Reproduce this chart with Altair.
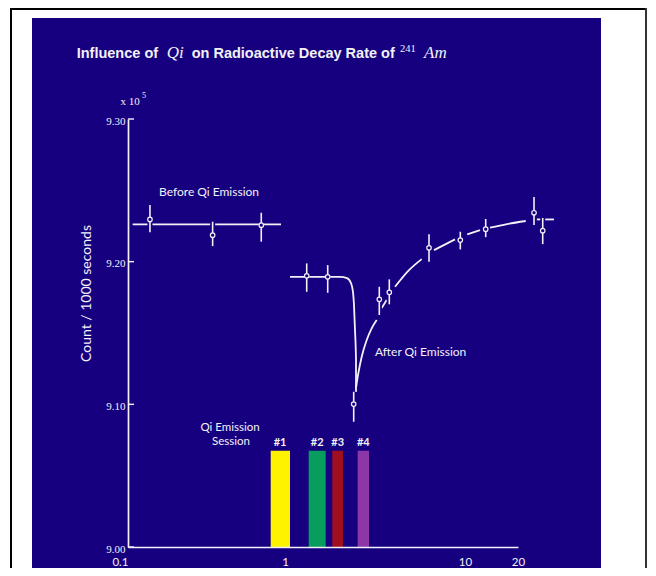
import altair as alt
import pandas as pd

# ---------------- data ----------------
before_x = [0.138, 0.346, 0.706]
before_y = [9.2296, 9.2186, 9.2256]
before_lo = [9.2207, 9.2109, 9.2140]
before_hi = [9.2397, 9.2280, 9.2343]

before_fit_x = [0.1071, 0.9430]
before_fit_y = [9.2261, 9.2261]

after_x = [1.320, 1.727, 2.408, 3.341, 3.797, 6.310, 9.417, 13.11, 24.66, 27.63]
after_y = [9.1901, 9.1894, 9.1002, 9.1736, 9.1785, 9.2097, 9.2151, 9.2228, 9.2343, 9.2217]
after_lo = [9.1789, 9.1782, 9.0878, 9.1626, 9.1701, 9.1999, 9.2086, 9.2172, 9.2257, 9.2123]
after_hi = [9.1988, 9.1976, 9.1088, 9.1824, 9.1876, 9.2193, 9.2210, 9.2299, 9.2453, 9.2306]

drop_x = [1.066, 2.021, 2.211, 2.326, 2.387, 2.417, 2.448, 2.480, 2.480]
drop_y = [9.1894, 9.1894, 9.1885, 9.1850, 9.1787, 9.1696, 9.1521, 9.1310, 9.1086]

rise_seg = [0, 0, 0, 0, 0, 0, 1, 1, 2, 2, 2, 3, 3, 4, 4, 5, 5, 5, 6, 6]
rise_x = [2.480, 2.554, 2.668, 2.844, 3.031, 3.232, 3.445, 3.673, 4.085, 4.825,
          5.747, 6.727, 8.800, 10.30, 12.17, 13.87, 17.32, 22.13, 25.54, 32.03]
rise_y = [9.1114, 9.1217, 9.1334, 9.1451, 9.1533, 9.1591, 9.1675, 9.1731, 9.1824, 9.1934,
          9.2018, 9.2081, 9.2156, 9.2191, 9.2221, 9.2238, 9.2263, 9.2285, 9.2296, 9.2296]

session_labels = ["#1", "#2", "#3", "#4"]
session_x0 = [0.811, 1.354, 1.831, 2.534]
session_x1 = [1.066, 1.683, 2.100, 2.929]
session_top = [9.0675, 9.0675, 9.0675, 9.0675]
session_colors = ["#fff200", "#089c5e", "#a00f1e", "#8d36a8"]

y_ticks = [9.00, 9.10, 9.20, 9.30]
x_ticks = [0.1, 1, 10, 20]

# ---------------- styling ----------------
NAVY = "#170080"
WHITE = "#f2f2f6"
SANS = "Lato"
SERIF = "Liberation Serif"
TITLE_SANS = "Liberation Sans"

pts = pd.DataFrame({
    "x": before_x + after_x,
    "y": before_y + after_y,
    "lo": before_lo + after_lo,
    "hi": before_hi + after_hi,
})
before_fit = pd.DataFrame({"x": before_fit_x, "y": before_fit_y, "seg": [0, 0],
                           "o": list(range(2))})
drop = pd.DataFrame({"x": drop_x, "y": drop_y, "seg": [0] * len(drop_x),
                     "o": list(range(len(drop_x)))})
rise = pd.DataFrame({"x": rise_x, "y": rise_y, "seg": rise_seg,
                     "o": list(range(len(rise_x)))})
bars = pd.DataFrame({"label": session_labels, "x0": session_x0, "x1": session_x1,
                     "top": session_top, "color": session_colors})
bars["xc"] = (bars["x0"] * bars["x1"]) ** 0.5
bars["bottom"] = 9.0
ticks = pd.DataFrame({"y": y_ticks})

xscale = alt.Scale(type="log", domain=[0.1, 1, 10, 20], range=[0, 157, 337, 390], nice=False)
yscale = alt.Scale(domain=[9.0, 9.3], nice=False, zero=False)

xaxis = alt.Axis(values=x_ticks, format="~g", title=None, grid=False, ticks=False,
                 domainColor=WHITE, domainWidth=1.7, labelColor=WHITE, labelFont=SANS,
                 labelFontSize=11.5, labelPadding=9, zindex=1, labelFlush=False,
                 labelAlign={"condition": {"test": "datum.value < 0.5", "value": "right"},
                             "value": "center"})
yaxis = alt.Axis(values=y_ticks, format=".2f", title=None, grid=False, ticks=False,
                 domainColor=WHITE, domainWidth=1.7, labelColor=WHITE, labelFont=SERIF,
                 labelFontSize=11, labelPadding=3, labelOffset=2, zindex=1,
                 labelFlush=False)

X = lambda f: alt.X(f, type="quantitative", scale=xscale, axis=xaxis)
Y = lambda f: alt.Y(f, type="quantitative", scale=yscale, axis=yaxis)

one = alt.Data(values=[{"a": 1}])

bg = alt.Chart(one).mark_rect(fill=NAVY).encode(
    x=alt.value(-96), x2=alt.value(473), y=alt.value(-101), y2=alt.value(450))

frame_l = alt.Chart(one).mark_rule(color="black", strokeWidth=2).encode(
    x=alt.value(-117), y=alt.value(-111), y2=alt.value(460))
frame_t = alt.Chart(one).mark_rule(color="black", strokeWidth=2).encode(
    x=alt.value(-117), x2=alt.value(519), y=alt.value(-110))
frame_r = alt.Chart(one).mark_rule(color="#333333", strokeWidth=2).encode(
    x=alt.value(518), y=alt.value(-111), y2=alt.value(460))

tick_marks = alt.Chart(ticks).mark_rule(color=WHITE, strokeWidth=1.4).encode(
    x=alt.value(0), x2=alt.value(6), y=Y("y"))

fit_before = alt.Chart(before_fit).mark_line(color=WHITE, strokeWidth=1.8).encode(
    x=X("x"), y=Y("y"), detail="seg:N", order="o:Q")
fit_drop = alt.Chart(drop).mark_line(color=WHITE, strokeWidth=1.8, interpolate="monotone").encode(
    x=X("x"), y=Y("y"), detail="seg:N", order="o:Q")
fit_rise = alt.Chart(rise).mark_line(color=WHITE, strokeWidth=1.8, interpolate="monotone").encode(
    x=X("x"), y=Y("y"), detail="seg:N", order="o:Q")

halo = alt.Chart(pts).mark_rule(color=NAVY, strokeWidth=5).encode(
    x=X("x"), y=Y("lo"), y2="hi")
err = alt.Chart(pts).mark_rule(color=WHITE, strokeWidth=1.6).encode(
    x=X("x"), y=Y("lo"), y2="hi")
points = alt.Chart(pts).mark_point(shape="circle", filled=True, fill=NAVY, stroke=WHITE,
                                   strokeWidth=1.2, size=20, opacity=1).encode(
    x=X("x"), y=Y("y"))

session_bars = alt.Chart(bars).mark_rect().encode(
    x=X("x0"), x2="x1", y=Y("bottom"), y2="top",
    color=alt.Color("color:N", scale=None))
session_text = alt.Chart(bars).mark_text(color=WHITE, font=SANS, fontSize=11,
                                         fontWeight="bold", baseline="middle").encode(
    x=X("xc"), y=alt.value(323.7), text="label:N")


def label(txt, x, y, font=SANS, size=12, align="center", baseline="middle",
          style="normal", weight="normal", angle=0):
    return alt.Chart(one).mark_text(
        color=WHITE, font=font, fontSize=size, align=align, baseline=baseline,
        fontStyle=style, fontWeight=weight, angle=angle).encode(
        x=alt.value(x), y=alt.value(y), text=alt.value(txt))


texts = [
    label("Influence of", -51.3, -61.3, font=TITLE_SANS, size=14.5, align="left",
          baseline="alphabetic", weight="bold"),
    label("Qi", 38.7, -61.3, font=SERIF, size=17, align="left", baseline="alphabetic",
          style="italic"),
    label("on Radioactive Decay Rate of", 63.7, -61.3, font=TITLE_SANS, size=14.5,
          align="left", baseline="alphabetic", weight="bold"),
    label("241", 272, -67.5, font=SERIF, size=10.5, align="left", baseline="alphabetic"),
    label("Am", 296, -61.3, font=SERIF, size=17, align="left", baseline="alphabetic",
          style="italic"),
    label("x 10", 2, -17.3, font=SERIF, size=11),
    label("5", 16, -23, font=SERIF, size=8),
    label("Before Qi Emission", 81, 73, size=12),
    label("After Qi Emission", 247, 232.7, size=12, align="left"),
    label("Qi Emission", 102, 309, size=11.5),
    label("Session", 103, 322.7, size=11.5),
    label("Count / 1000 seconds", -41.5, 174.5, size=14, angle=270),
]

chart = alt.layer(
    bg, frame_l, frame_t, frame_r,
    fit_before, fit_drop, fit_rise,
    halo, err, points,
    session_bars, session_text, tick_marks,
    *texts,
).properties(
    width=390, height=428,
    autosize=alt.AutoSizeParams(type="none"),
    padding={"left": 120, "top": 111, "right": 130, "bottom": 21},
    background="white",
).configure_view(stroke=None)

chart.save("out.html", embed_options={"renderer": "svg", "actions": False})
